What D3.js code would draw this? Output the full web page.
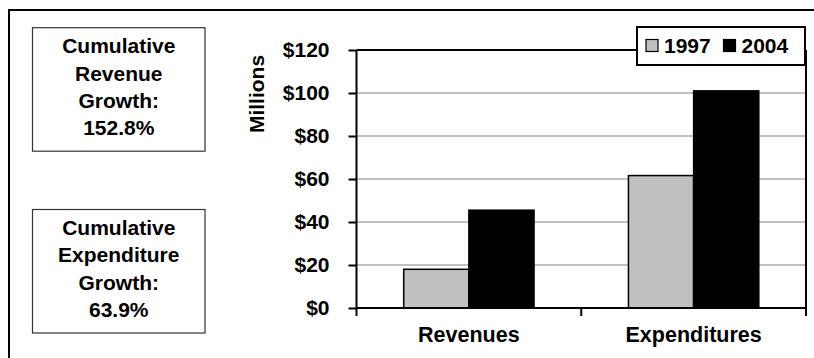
<!DOCTYPE html>
<html>
<head>
<meta charset="utf-8">
<script src="https://cdn.jsdelivr.net/npm/d3@7"></script>
<style>
  html, body { margin: 0; padding: 0; background: #fff; }
  svg { display: block; }
  text { font-family: "Liberation Sans", Arial, sans-serif; font-weight: bold; fill: #000; }
</style>
</head>
<body>
<svg id="chart" width="814" height="358"></svg>
<script>
// ---- data ----
const categories = ["Revenues", "Expenditures"];
const seriesNames = ["1997", "2004"];
const values1997 = [18.0, 61.6];
const values2004 = [45.5, 101.0];
const yTicks = [0, 20, 40, 60, 80, 100, 120];
const yTickLabels = ["$0", "$20", "$40", "$60", "$80", "$100", "$120"];
const yAxisTitle = "Millions";
const noteRevenue = ["Cumulative", "Revenue", "Growth:", "152.8%"];
const noteExpenditure = ["Cumulative", "Expenditure", "Growth:", "63.9%"];
const seriesColors = ["#c0c0c0", "#000000"];

(function () {
const svg = d3.select("#chart");

// outer frame
svg.append("rect").attr("x", 9).attr("y", 10).attr("width", 820).attr("height", 360)
  .attr("fill", "#fff").attr("stroke", "#000").attr("stroke-width", 2);

// plot geometry
const pL = 356.5, pR = 806, pT = 50, pB = 308;
const y = d3.scaleLinear().domain([0, 120]).range([pB, pT]);
const x0 = d3.scaleBand().domain(categories).range([pL, pR]).paddingInner(0.42).paddingOuter(0.21);
const x1 = d3.scaleBand().domain(seriesNames).range([0, x0.bandwidth()]);

// gridlines
svg.append("g").selectAll("line").data(yTicks.filter(t => t > 0 && t < 120)).join("line")
  .attr("x1", pL).attr("x2", pR)
  .attr("y1", d => y(d)).attr("y2", d => y(d))
  .attr("stroke", "#c0c0c0").attr("stroke-width", 2);

// plot border top + right
svg.append("line").attr("x1", pL).attr("x2", pR).attr("y1", y(120)).attr("y2", y(120))
  .attr("stroke", "#000").attr("stroke-width", 2);
svg.append("line").attr("x1", pR).attr("x2", pR).attr("y1", y(120)).attr("y2", pB)
  .attr("stroke", "#000").attr("stroke-width", 2);

// bars
const rows = categories.map((c, i) => ({cat: c, vals: [values1997[i], values2004[i]]}));
const g = svg.append("g").selectAll("g").data(rows).join("g")
  .attr("transform", d => `translate(${x0(d.cat)},0)`);
g.selectAll("rect").data(d => d.vals.map((v, j) => ({s: seriesNames[j], v, j}))).join("rect")
  .attr("x", d => x1(d.s)).attr("width", x1.bandwidth())
  .attr("y", d => y(d.v)).attr("height", d => pB - y(d.v))
  .attr("fill", d => seriesColors[d.j]).attr("stroke", "#000").attr("stroke-width", 1.5);

// y axis
const yAxis = d3.axisLeft(y).tickValues(yTicks).tickSize(8).tickPadding(19)
  .tickFormat((d, i) => yTickLabels[i]);
const ya = svg.append("g").attr("transform", `translate(${pL},0)`).call(yAxis);
ya.attr("font-family", null).attr("font-size", null);
ya.select(".domain").attr("stroke", "#000").attr("stroke-width", 2).attr("d", `M0,${pT}V${pB}`);
ya.selectAll(".tick line").attr("stroke", "#000").attr("stroke-width", 2);
ya.selectAll(".tick text").attr("font-size", 21).attr("dy", "0.33em").attr("fill", "#000");

// x axis
const xa = svg.append("g").attr("transform", `translate(0,${pB})`);
xa.append("line").attr("x1", pL).attr("x2", pR).attr("stroke", "#000").attr("stroke-width", 2);
const bounds = [pL, (x0(categories[0]) + x0.bandwidth() + x0(categories[1])) / 2, pR];
xa.selectAll("line.t").data(bounds).join("line").attr("class", "t")
  .attr("x1", d => d).attr("x2", d => d).attr("y1", 0).attr("y2", 8)
  .attr("stroke", "#000").attr("stroke-width", 2);
xa.selectAll("text").data(categories).join("text")
  .attr("x", d => x0(d) + x0.bandwidth() / 2).attr("y", 34)
  .attr("text-anchor", "middle").attr("font-size", 21.5).text(d => d);

// y axis title
svg.append("text").attr("transform", "translate(264,94) rotate(-90)")
  .attr("text-anchor", "middle").attr("font-size", 21).text(yAxisTitle);

// legend
const lg = svg.append("g");
lg.append("rect").attr("x", 637).attr("y", 27).attr("width", 168).attr("height", 38)
  .attr("fill", "#fff").attr("stroke", "#000").attr("stroke-width", 2);
const legX = [646, 723.5];
seriesNames.forEach((s, i) => {
  lg.append("rect").attr("x", legX[i]).attr("y", 39.5).attr("width", 12).attr("height", 12)
    .attr("fill", seriesColors[i]).attr("stroke", "#000").attr("stroke-width", 1.2);
  lg.append("text").attr("x", legX[i] + 18).attr("y", 53.3).attr("font-size", 21).text(s);
});

// note boxes
function noteBox(lines, yTop) {
  const b = svg.append("g");
  b.append("rect").attr("x", 32.5).attr("y", yTop).attr("width", 172.5).attr("height", 123.5)
    .attr("fill", "#fff").attr("stroke", "#333").attr("stroke-width", 1.2);
  b.selectAll("text").data(lines).join("text")
    .attr("x", 118.75).attr("y", (d, i) => yTop + 25.6 + i * 27.3)
    .attr("text-anchor", "middle").attr("font-size", 21).text(d => d);
}
noteBox(noteRevenue, 27.7);
noteBox(noteExpenditure, 209.5);
})();
</script>
</body>
</html>
